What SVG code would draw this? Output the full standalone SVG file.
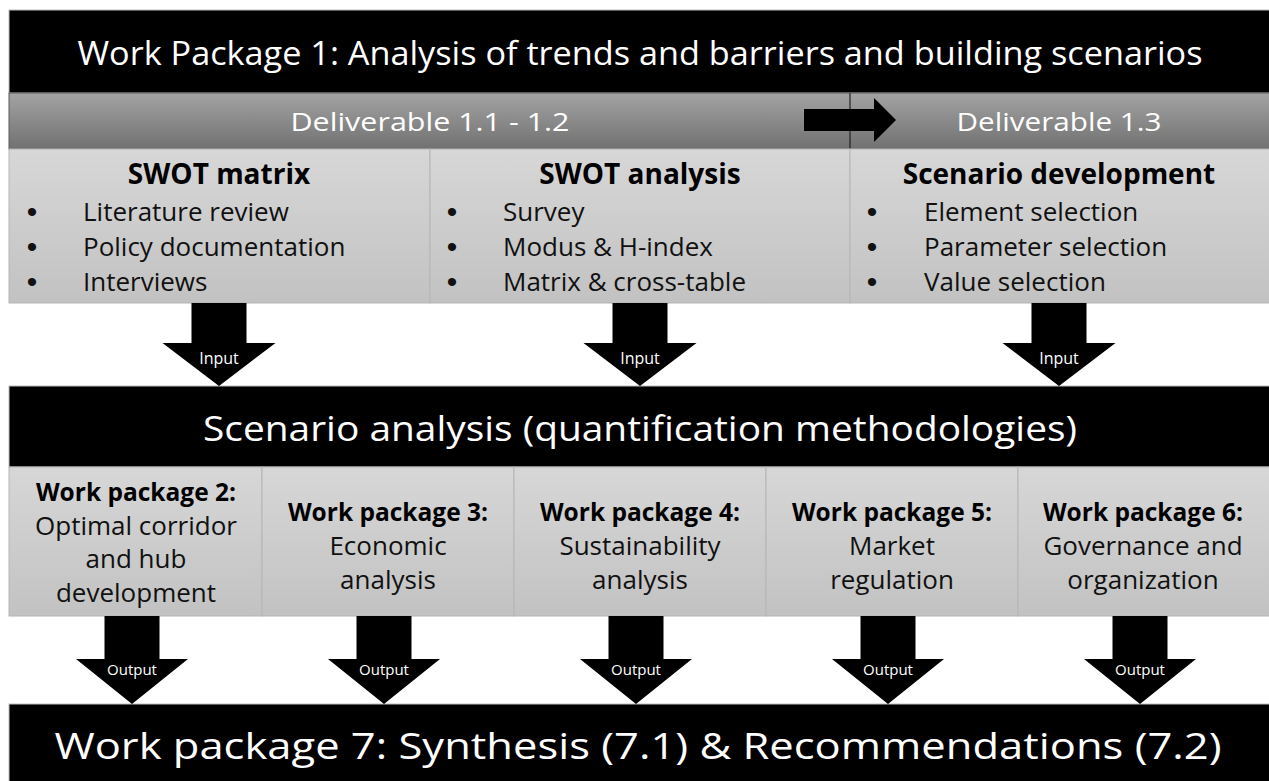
<svg xmlns="http://www.w3.org/2000/svg" width="1269" height="781" viewBox="0 0 1269 781">
  <defs>
    <linearGradient id="barGrad" x1="0" y1="0" x2="0" y2="1">
      <stop offset="0" stop-color="#a3a3a3"/>
      <stop offset="1" stop-color="#717171"/>
    </linearGradient>
    <linearGradient id="boxGrad" x1="0" y1="0" x2="0" y2="1">
      <stop offset="0" stop-color="#d7d7d7"/>
      <stop offset="1" stop-color="#c2c2c2"/>
    </linearGradient>
  </defs>
  <style>
    text { font-family: "Open Sans", "Liberation Sans", sans-serif; }
    .banner { fill: #000; stroke: #bdbdbd; stroke-width: 1; }
    .bannerText { fill: #fff; text-anchor: middle; }
    .box { fill: url(#boxGrad); stroke: #b5b5b5; stroke-width: 1; }
    .head { font-weight: bold; font-size: 28px; fill: #000; text-anchor: middle; }
    .item { font-size: 26px; fill: #111; }
    .bullet { font-family: "Liberation Sans", sans-serif; font-size: 30px; fill: #111; text-anchor: middle; }
    .wpb { font-weight: bold; font-size: 24.5px; fill: #000; text-anchor: middle; }
    .wp { font-size: 26px; fill: #111; text-anchor: middle; }
    .arrow { fill: #000; }
    .lbl { fill: #fff; text-anchor: middle; }
  </style>
  <rect width="1269" height="781" fill="#fff"/>

  <g id="wp1">
    <rect class="banner" x="9" y="10" width="1261" height="83"/>
    <text class="bannerText" x="640" y="65" font-size="32" textLength="1125" lengthAdjust="spacingAndGlyphs">Work Package 1: Analysis of trends and barriers and building scenarios</text>
  </g>

  <g id="deliverables">
    <rect x="9" y="93" width="1261" height="56" fill="url(#barGrad)" stroke="#5a5a5a" stroke-width="1"/>
    <line x1="850" y1="93" x2="850" y2="149" stroke="#222" stroke-width="1.2"/>
    <text class="bannerText" x="430" y="131" font-size="26" fill="#f4f4f4" textLength="279" lengthAdjust="spacingAndGlyphs">Deliverable 1.1 - 1.2</text>
    <text class="bannerText" x="1059" y="131" font-size="26" fill="#f4f4f4" textLength="205" lengthAdjust="spacingAndGlyphs">Deliverable 1.3</text>
    <polygon class="arrow" points="804,109 874,109 874,98 896,120 874,142 874,131 804,131"/>
  </g>

  <g id="swot-matrix">
    <rect class="box" x="9" y="149" width="421" height="154"/>
    <text class="head" x="219" y="184">SWOT matrix</text>
    <text class="bullet" x="32" y="222">•</text><text class="item" x="83" y="221">Literature review</text>
    <text class="bullet" x="32" y="257">•</text><text class="item" x="83" y="256">Policy documentation</text>
    <text class="bullet" x="32" y="292">•</text><text class="item" x="83" y="291">Interviews</text>
  </g>

  <g id="swot-analysis">
    <rect class="box" x="430" y="149" width="420" height="154"/>
    <text class="head" x="640" y="184">SWOT analysis</text>
    <text class="bullet" x="452" y="222">•</text><text class="item" x="503" y="221">Survey</text>
    <text class="bullet" x="452" y="257">•</text><text class="item" x="503" y="256">Modus &amp; H-index</text>
    <text class="bullet" x="452" y="292">•</text><text class="item" x="503" y="291">Matrix &amp; cross-table</text>
  </g>

  <g id="scenario-development">
    <rect class="box" x="850" y="149" width="420" height="154"/>
    <text class="head" x="1059" y="184">Scenario development</text>
    <text class="bullet" x="872" y="222">•</text><text class="item" x="924" y="221">Element selection</text>
    <text class="bullet" x="872" y="257">•</text><text class="item" x="924" y="256">Parameter selection</text>
    <text class="bullet" x="872" y="292">•</text><text class="item" x="924" y="291">Value selection</text>
  </g>

  <g id="scenario-analysis">
    <rect class="banner" x="9" y="386" width="1261" height="81"/>
    <text class="bannerText" x="640" y="441" font-size="35" textLength="874" lengthAdjust="spacingAndGlyphs">Scenario analysis (quantification methodologies)</text>
  </g>

  <g id="wp2">
    <rect class="box" x="9" y="467" width="253" height="149"/>
    <text class="wpb" x="136" y="501">Work package 2:</text>
    <text class="wp" x="136" y="535">Optimal corridor</text>
    <text class="wp" x="136" y="568">and hub</text>
    <text class="wp" x="136" y="602">development</text>
  </g>
  <g id="wp3">
    <rect class="box" x="262" y="467" width="252" height="149"/>
    <text class="wpb" x="388" y="521">Work package 3:</text>
    <text class="wp" x="388" y="555">Economic</text>
    <text class="wp" x="388" y="589">analysis</text>
  </g>
  <g id="wp4">
    <rect class="box" x="514" y="467" width="252" height="149"/>
    <text class="wpb" x="640" y="521">Work package 4:</text>
    <text class="wp" x="640" y="555">Sustainability</text>
    <text class="wp" x="640" y="589">analysis</text>
  </g>
  <g id="wp5">
    <rect class="box" x="766" y="467" width="252" height="149"/>
    <text class="wpb" x="892" y="521">Work package 5:</text>
    <text class="wp" x="892" y="555">Market</text>
    <text class="wp" x="892" y="589">regulation</text>
  </g>
  <g id="wp6">
    <rect class="box" x="1018" y="467" width="252" height="149"/>
    <text class="wpb" x="1143" y="521">Work package 6:</text>
    <text class="wp" x="1143" y="555">Governance and</text>
    <text class="wp" x="1143" y="589">organization</text>
  </g>

  <g id="wp7">
    <rect class="banner" x="9" y="704" width="1261" height="80"/>
    <text class="bannerText" x="638" y="759" font-size="37" textLength="1167" lengthAdjust="spacingAndGlyphs">Work package 7: Synthesis (7.1) &amp; Recommendations (7.2)</text>
  </g>

  <g id="connectors">
    <polygon class="arrow" points="191.5,303 246.5,303 246.5,343 275.5,343 219,386 162.5,343 191.5,343"/>
    <text class="lbl" x="219" y="364" font-size="16">Input</text>
    <polygon class="arrow" points="612.5,303 667.5,303 667.5,343 696.5,343 640,386 583.5,343 612.5,343"/>
    <text class="lbl" x="640" y="364" font-size="16">Input</text>
    <polygon class="arrow" points="1031.5,303 1086.5,303 1086.5,343 1115.5,343 1059,386 1002.5,343 1031.5,343"/>
    <text class="lbl" x="1059" y="364" font-size="16">Input</text>

    <polygon class="arrow" points="104.5,616 159.5,616 159.5,659 188,659 132,704 76,659 104.5,659"/>
    <text class="lbl" x="132" y="675" font-size="15">Output</text>
    <polygon class="arrow" points="356.5,616 411.5,616 411.5,659 440,659 384,704 328,659 356.5,659"/>
    <text class="lbl" x="384" y="675" font-size="15">Output</text>
    <polygon class="arrow" points="608.5,616 663.5,616 663.5,659 692,659 636,704 580,659 608.5,659"/>
    <text class="lbl" x="636" y="675" font-size="15">Output</text>
    <polygon class="arrow" points="860.5,616 915.5,616 915.5,659 944,659 888,704 832,659 860.5,659"/>
    <text class="lbl" x="888" y="675" font-size="15">Output</text>
    <polygon class="arrow" points="1112.5,616 1167.5,616 1167.5,659 1196,659 1140,704 1084,659 1112.5,659"/>
    <text class="lbl" x="1140" y="675" font-size="15">Output</text>
  </g>
</svg>
